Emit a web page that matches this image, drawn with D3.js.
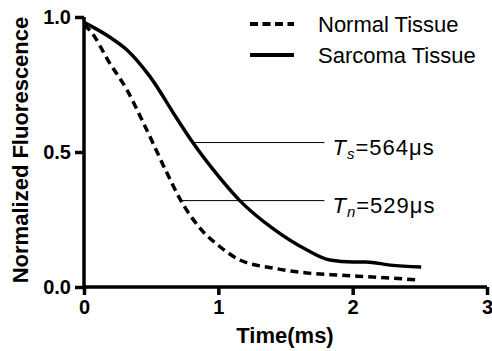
<!DOCTYPE html>
<html><head><meta charset="utf-8">
<script src="https://cdn.jsdelivr.net/npm/d3@7"></script>
<style>body{margin:0;background:#fff;} svg{display:block;font-family:"Liberation Sans",Arial,Helvetica,sans-serif;}</style>
</head><body>
<svg id="c" width="492" height="351"></svg>
<script>
const sarcomaT = [0,0.19,0.32,0.49,0.69,0.81,1.01,1.16,1.41,1.66,1.83,2.0,2.1,2.28,2.51];
const sarcomaV = [0.98,0.926,0.878,0.78,0.625,0.535,0.405,0.32,0.215,0.137,0.1,0.093,0.093,0.081,0.074];
const normalT = [0,0.045,0.19,0.32,0.44,0.62,0.71,0.86,1.01,1.16,1.41,1.66,1.9,2.15,2.5];
const normalV = [0.97,0.95,0.83,0.73,0.61,0.42,0.33,0.22,0.15,0.1,0.07,0.052,0.044,0.037,0.026];
const xTicks = [0,1,2,3];
const yTicks = [0,0.5,1.0];
const legendLabels = ["Normal Tissue","Sarcoma Tissue"];
const annotY = [0.535,0.32];
const annotX0 = [0.81,0.73];
const annotX1 = 1.79;
const annotSub = ["s","n"];
const annotVal = ["=564μs","=529μs"];

const svg = d3.select("#c");
const x = d3.scaleLinear().domain([0,3]).range([84,487]);
const y = d3.scaleLinear().domain([0,1]).range([287,17]);

// axes
const xa = svg.append("g").attr("transform","translate(0,287)")
  .call(d3.axisBottom(x).tickValues(xTicks).tickFormat(d3.format("d")).tickSize(8).tickPadding(5));
const ya = svg.append("g").attr("transform","translate(84,0)")
  .call(d3.axisLeft(y).tickValues(yTicks).tickFormat(d3.format(".1f")).tickSize(9).tickPadding(4));
[xa,ya].forEach(g=>{
  g.select(".domain").attr("stroke","#000").attr("stroke-width",3.5);
  g.selectAll(".tick line").attr("stroke","#000").attr("stroke-width",3.5);
  g.selectAll(".tick text").attr("fill","#000").style("font-size","20px").style("font-weight","bold")
   .style("font-family","'Liberation Sans',Arial,sans-serif");
});
xa.select(".domain").attr("d","M84,0H487");
ya.select(".domain").attr("d","M0,287V17");

// curves
const line = d3.line().x(d=>x(d[0])).y(d=>y(d[1])).curve(d3.curveMonotoneX);
const sData = sarcomaT.map((t,i)=>[t,sarcomaV[i]]);
const nData = normalT.map((t,i)=>[t,normalV[i]]);
svg.append("path").attr("d",line(nData)).attr("fill","none").attr("stroke","#000")
  .attr("stroke-width",3.5).attr("stroke-dasharray","8,5");
svg.append("path").attr("d",line(sData)).attr("fill","none").attr("stroke","#000")
  .attr("stroke-width",3.5);

// annotations
annotY.forEach((v,i)=>{
  svg.append("line").attr("x1",x(annotX0[i])).attr("x2",x(annotX1))
    .attr("y1",y(v)).attr("y2",y(v)).attr("stroke","#000").attr("stroke-width",1);
  const t = svg.append("text").attr("x",x(annotX1)+8).attr("y",y(v)+12)
    .style("font-size","22px").style("letter-spacing","1px").attr("fill","#000");
  t.append("tspan").style("font-style","italic").text("T");
  t.append("tspan").attr("dy",4).style("font-size","15px").style("font-style","italic").text(annotSub[i]);
  t.append("tspan").attr("dy",-4).text(annotVal[i]);
});

// legend
const lg = svg.append("g");
legendLabels.forEach((l,i)=>{
  const yy = 24 + i*31;
  lg.append("line").attr("x1",250).attr("x2",294).attr("y1",yy).attr("y2",yy)
    .attr("stroke","#000").attr("stroke-width",4).attr("stroke-dasharray", i===0 ? "8,4.5" : null);
  lg.append("text").attr("x",318).attr("y",yy).attr("dy","0.35em")
    .style("font-size","22px").attr("fill","#000").text(l);
});

// axis titles
svg.append("text").attr("x",285).attr("y",343).attr("text-anchor","middle")
  .style("font-size","22px").style("font-weight","bold").text("Time(ms)");
svg.append("text").attr("transform","translate(28,150) rotate(-90)").attr("text-anchor","middle")
  .style("font-size","22px").style("font-weight","bold").text("Normalized Fluorescence");
</script>
</body></html>
